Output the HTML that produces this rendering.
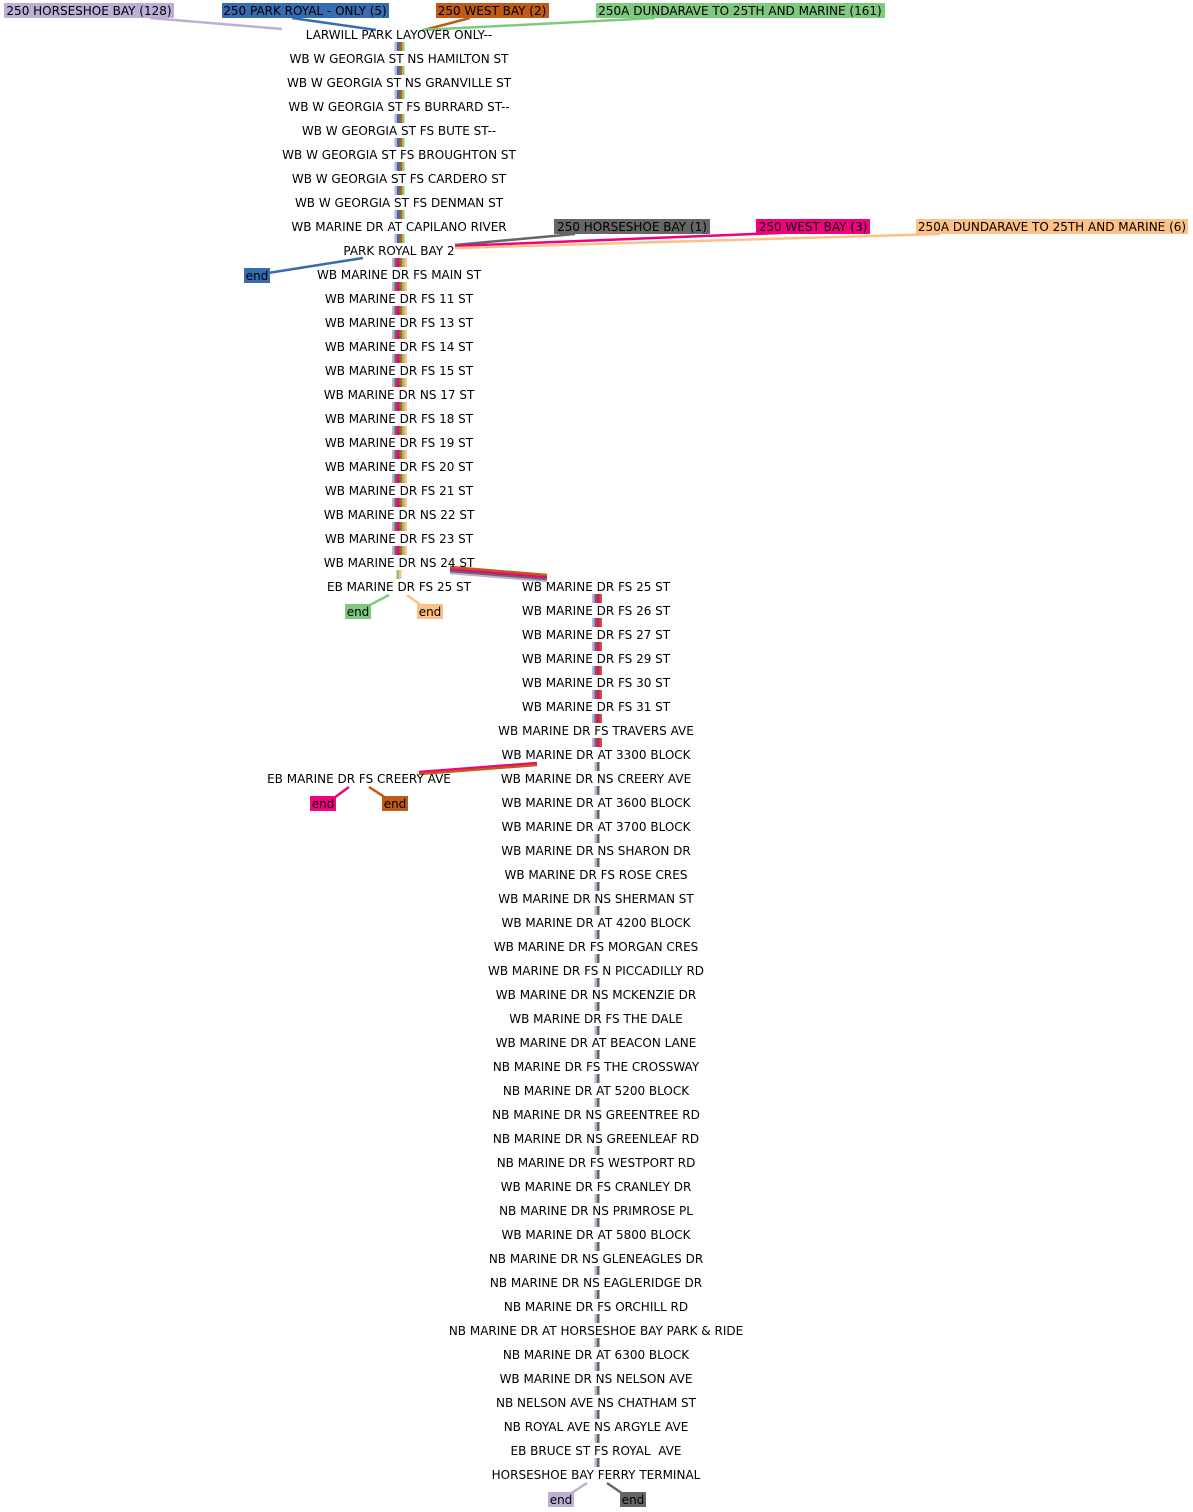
<!DOCTYPE html>
<html><head><meta charset="utf-8"><style>
html,body{margin:0;padding:0;background:#fff;}
svg{display:block;}
text{font-family:"DejaVu Sans","Liberation Sans",sans-serif;font-size:12px;fill:#000;}
</style></head><body>
<svg width="1193" height="1512" xmlns="http://www.w3.org/2000/svg" id="s">
<g stroke-width="2.5" fill="none">
<line x1="150" y1="18" x2="282" y2="29" stroke="#beaed4"/>
<line x1="292" y1="18" x2="376" y2="30" stroke="#386cb0"/>
<line x1="470" y1="18" x2="424" y2="30" stroke="#bf5b17"/>
<line x1="655" y1="18" x2="422" y2="30" stroke="#7fc97f"/>
<line x1="455" y1="245" x2="575" y2="234" stroke="#666666"/>
<line x1="455" y1="246" x2="780" y2="233" stroke="#f0027f"/>
<line x1="455" y1="248" x2="940" y2="234" stroke="#fdc086"/>
<line x1="363" y1="258" x2="268" y2="273" stroke="#386cb0"/>
<line x1="450" y1="573" x2="547" y2="581" stroke="#beaed4"/>
<line x1="450" y1="571" x2="547" y2="579" stroke="#666666"/>
<line x1="450" y1="569" x2="547" y2="577" stroke="#f0027f"/>
<line x1="450" y1="567" x2="547" y2="575" stroke="#bf5b17"/>
<line x1="389" y1="595" x2="368" y2="606" stroke="#7fc97f"/>
<line x1="407" y1="595" x2="422" y2="606" stroke="#fdc086"/>
<line x1="537" y1="763" x2="419" y2="772" stroke="#f0027f"/>
<line x1="537" y1="765" x2="419" y2="774" stroke="#bf5b17"/>
<line x1="349" y1="787" x2="334" y2="798" stroke="#f0027f"/>
<line x1="369" y1="787" x2="386" y2="798" stroke="#bf5b17"/>
<line x1="587" y1="1483" x2="570" y2="1494" stroke="#beaed4"/>
<line x1="607" y1="1483" x2="623" y2="1494" stroke="#666666"/>
</g>
<g id="bars"></g>
<g>
<rect x="4" y="3" width="170" height="15" fill="#beaed4"/><text x="89" y="15" text-anchor="middle">250 HORSESHOE BAY (128)</text>
<rect x="222" y="3" width="167" height="15" fill="#386cb0"/><text x="305" y="15" text-anchor="middle">250 PARK ROYAL - ONLY (5)</text>
<rect x="436" y="3" width="113" height="15" fill="#bf5b17"/><text x="492" y="15" text-anchor="middle">250 WEST BAY (2)</text>
<rect x="596" y="3" width="289" height="15" fill="#7fc97f"/><text x="740" y="15" text-anchor="middle">250A DUNDARAVE TO 25TH AND MARINE (161)</text>
<rect x="554" y="219" width="156" height="15" fill="#666666"/><text x="632" y="231" text-anchor="middle">250 HORSESHOE BAY (1)</text>
<rect x="756" y="219" width="114" height="15" fill="#f0027f"/><text x="813" y="231" text-anchor="middle">250 WEST BAY (3)</text>
<rect x="916" y="219" width="272" height="15" fill="#fdc086"/><text x="1052" y="231" text-anchor="middle">250A DUNDARAVE TO 25TH AND MARINE (6)</text>
<rect x="244" y="268" width="26" height="15" fill="#386cb0"/><text x="257" y="280" text-anchor="middle">end</text>
<rect x="345" y="604" width="26" height="15" fill="#7fc97f"/><text x="358" y="616" text-anchor="middle">end</text>
<rect x="417" y="604" width="26" height="15" fill="#fdc086"/><text x="430" y="616" text-anchor="middle">end</text>
<rect x="310" y="796" width="26" height="15" fill="#f0027f"/><text x="323" y="808" text-anchor="middle">end</text>
<rect x="382" y="796" width="26" height="15" fill="#bf5b17"/><text x="395" y="808" text-anchor="middle">end</text>
<rect x="548" y="1492" width="26" height="15" fill="#beaed4"/><text x="561" y="1504" text-anchor="middle">end</text>
<rect x="620" y="1492" width="26" height="15" fill="#666666"/><text x="633" y="1504" text-anchor="middle">end</text>
</g>
<g id="labels"></g>
</svg>
<script>
var ns="http://www.w3.org/2000/svg";
var L=document.getElementById('labels'),B=document.getElementById('bars');
function t(x,y,s){var e=document.createElementNS(ns,'text');e.setAttribute('x',x);e.setAttribute('y',y+4);e.setAttribute('text-anchor','middle');e.textContent=s;L.appendChild(e);}
function bar(cx,y,cols){var w=2.5,x0=cx-cols.length*w/2;cols.forEach(function(c,i){var r=document.createElementNS(ns,'rect');r.setAttribute('x',x0+i*w);r.setAttribute('y',y+7);r.setAttribute('width',w);r.setAttribute('height',9);r.setAttribute('fill',c);B.appendChild(r);});}
var P='#beaed4',BL='#386cb0',O='#bf5b17',G='#7fc97f',GR='#666666',PK='#f0027f',PE='#fdc086';
var c1=["LARWILL PARK LAYOVER ONLY--","WB W GEORGIA ST NS HAMILTON ST","WB W GEORGIA ST NS GRANVILLE ST","WB W GEORGIA ST FS BURRARD ST--","WB W GEORGIA ST FS BUTE ST--","WB W GEORGIA ST FS BROUGHTON ST","WB W GEORGIA ST FS CARDERO ST","WB W GEORGIA ST FS DENMAN ST","WB MARINE DR AT CAPILANO RIVER","PARK ROYAL BAY 2","WB MARINE DR FS MAIN ST","WB MARINE DR FS 11 ST","WB MARINE DR FS 13 ST","WB MARINE DR FS 14 ST","WB MARINE DR FS 15 ST","WB MARINE DR NS 17 ST","WB MARINE DR FS 18 ST","WB MARINE DR FS 19 ST","WB MARINE DR FS 20 ST","WB MARINE DR FS 21 ST","WB MARINE DR NS 22 ST","WB MARINE DR FS 23 ST","WB MARINE DR NS 24 ST","EB MARINE DR FS 25 ST"];
c1.forEach(function(s,i){var y=35+24*i;t(399,y,s);if(i<c1.length-1){var cols=i<9?[P,BL,O,G]:(i<22?[P,GR,PK,O,G,PE]:[G,PE]);bar(i<22?399.5:399,y,cols);}});
var c2=["WB MARINE DR FS 25 ST","WB MARINE DR FS 26 ST","WB MARINE DR FS 27 ST","WB MARINE DR FS 29 ST","WB MARINE DR FS 30 ST","WB MARINE DR FS 31 ST","WB MARINE DR FS TRAVERS AVE","WB MARINE DR AT 3300 BLOCK","WB MARINE DR NS CREERY AVE","WB MARINE DR AT 3600 BLOCK","WB MARINE DR AT 3700 BLOCK","WB MARINE DR NS SHARON DR","WB MARINE DR FS ROSE CRES","WB MARINE DR NS SHERMAN ST","WB MARINE DR AT 4200 BLOCK","WB MARINE DR FS MORGAN CRES","WB MARINE DR FS N PICCADILLY RD","WB MARINE DR NS MCKENZIE DR","WB MARINE DR FS THE DALE","WB MARINE DR AT BEACON LANE","NB MARINE DR FS THE CROSSWAY","NB MARINE DR AT 5200 BLOCK","NB MARINE DR NS GREENTREE RD","NB MARINE DR NS GREENLEAF RD","NB MARINE DR FS WESTPORT RD","WB MARINE DR FS CRANLEY DR","NB MARINE DR NS PRIMROSE PL","WB MARINE DR AT 5800 BLOCK","NB MARINE DR NS GLENEAGLES DR","NB MARINE DR NS EAGLERIDGE DR","NB MARINE DR FS ORCHILL RD","NB MARINE DR AT HORSESHOE BAY PARK & RIDE","NB MARINE DR AT 6300 BLOCK","WB MARINE DR NS NELSON AVE","NB NELSON AVE NS CHATHAM ST","NB ROYAL AVE NS ARGYLE AVE","EB BRUCE ST FS ROYAL\u00a0 AVE","HORSESHOE BAY FERRY TERMINAL"];
c2.forEach(function(s,i){var y=587+24*i;t(596,y,s);if(i<c2.length-1){bar(597,y,i<7?[P,GR,PK,O]:[P,GR]);}});
t(359,779,"EB MARINE DR FS CREERY AVE");
</script>
</body></html>
